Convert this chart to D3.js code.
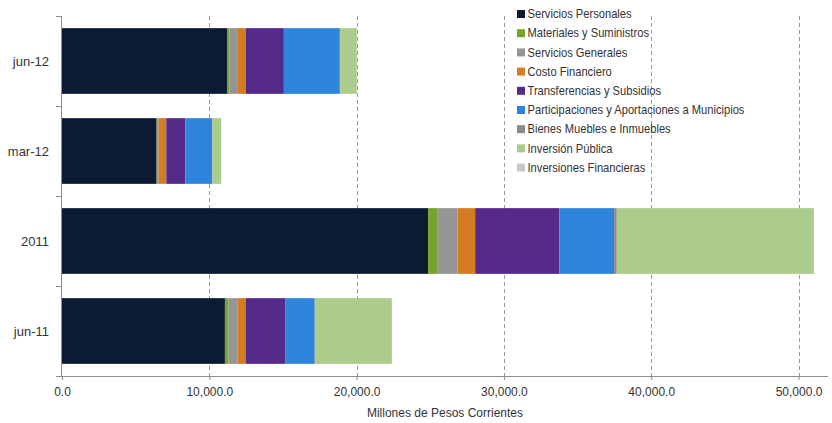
<!DOCTYPE html>
<html><head><meta charset="utf-8">
<script src="https://cdn.jsdelivr.net/npm/d3@7"></script>
<style>body{margin:0;background:#fff;} svg{display:block;font-family:"Liberation Sans",Arial,sans-serif;}</style>
</head><body><svg id="c" width="832" height="423"></svg>
<script>
const categories = ["jun-12","mar-12","2011","jun-11"];
const seriesNames = ["Servicios Personales","Materiales y Suministros","Servicios Generales","Costo Financiero","Transferencias y Subsidios","Participaciones y Aportaciones a Municipios","Bienes Muebles e Inmuebles","Inversión Pública","Inversiones Financieras"];
const serviciosPersonales = [11200, 6420, 24850, 11060];
const materialesSuministros = [150, 30, 660, 250];
const serviciosGenerales = [540, 110, 1340, 590];
const costoFinanciero = [590, 520, 1200, 590];
const transferenciasSubsidios = [2580, 1290, 5720, 2690];
const participacionesMunicipios = [3800, 1830, 3710, 1970];
const bienesMuebles = [20, 10, 180, 60];
const inversionPublica = [1130, 590, 13380, 5180];
const inversionesFinancieras = [0, 0, 0, 0];
const xTicks = [0, 10000, 20000, 30000, 40000, 50000];
const colors = ["#0c1a33","#77a22d","#959595","#d47c21","#552a8a","#2f84dc","#8a8a8a","#abcc8a","#c8c8c8"];

const allSeries = [serviciosPersonales, materialesSuministros, serviciosGenerales, costoFinanciero, transferenciasSubsidios, participacionesMunicipios, bienesMuebles, inversionPublica, inversionesFinancieras];
const rows = categories.map((c, i) => {
  const r = {cat: c};
  seriesNames.forEach((s, j) => r[s] = allSeries[j][i]);
  return r;
});
const stacked = d3.stack().keys(seriesNames)(rows);

const svg = d3.select("#c");
const pL = 62, pR = 828, pT = 16, pB = 376;
const x = d3.scaleLinear().domain([0, 52000]).range([pL, pR]);
const y = d3.scaleBand().domain(categories).range([pT, pB]).paddingInner(0.27).paddingOuter(0.135);

// gridlines
svg.append("g").selectAll("line").data(xTicks.slice(1)).join("line")
  .attr("x1", d => Math.round(x(d)) + 0.5).attr("x2", d => Math.round(x(d)) + 0.5).attr("y1", pT).attr("y2", pB)
  .attr("stroke", "#9a9a9a").attr("stroke-width", 1).attr("stroke-dasharray", "4,3");

// bars
svg.append("g").selectAll("g").data(stacked).join("g")
  .attr("fill", (d, i) => colors[i])
  .selectAll("rect").data(d => d).join("rect")
  .attr("x", d => x(d[0])).attr("width", d => Math.max(0, x(d[1]) - x(d[0])))
  .attr("y", d => y(d.data.cat)).attr("height", y.bandwidth());

// x axis
const xAxis = d3.axisBottom(x).tickValues(xTicks).tickFormat(d3.format(",.1f")).tickSize(4).tickSizeOuter(0);
const gx = svg.append("g").attr("transform", `translate(0,${pB})`).call(xAxis);
gx.select(".domain").attr("stroke", "#8c8c8c").attr("d", `M${pL - 6},0.5H${pR}`);
gx.selectAll(".tick line").attr("stroke", "#8c8c8c");
gx.selectAll("text").attr("font-size", 12).attr("fill", "#333").attr("dy", "1.1em");

// y axis
svg.append("line").attr("x1", pL - 0.5).attr("x2", pL - 0.5).attr("y1", pT).attr("y2", pB).attr("stroke", "#8c8c8c");
const bounds = d3.range(categories.length).map(i => pT + i * y.step());
svg.append("g").selectAll("line").data(bounds).join("line")
  .attr("x1", pL - 6).attr("x2", pL).attr("y1", d => d + 0.5).attr("y2", d => d + 0.5).attr("stroke", "#8c8c8c");
svg.append("g").selectAll("text").data(categories).join("text")
  .attr("x", 49).attr("y", d => y(d) + y.bandwidth() / 2).attr("dy", "0.35em")
  .attr("text-anchor", "end").attr("font-size", 13).attr("fill", "#333").text(d => d);

// axis title
svg.append("text").attr("x", 445).attr("y", 417).attr("text-anchor", "middle")
  .attr("font-size", 12).attr("fill", "#333")
  .text("Millones de Pesos Corrientes");

// legend
const lg = svg.append("g").attr("transform", "translate(517,14)");
const items = lg.selectAll("g").data(seriesNames).join("g").attr("transform", (d, i) => `translate(0,${i * 19.2})`);
items.append("rect").attr("x", 0).attr("y", -4).attr("width", 8).attr("height", 8).attr("fill", (d, i) => colors[i]);
items.append("text").attr("transform", "translate(10.5,0) scale(0.93,1)").attr("dy", "0.35em").attr("font-size", 12).attr("fill", "#333")
  .text(d => d);
</script></body></html>
